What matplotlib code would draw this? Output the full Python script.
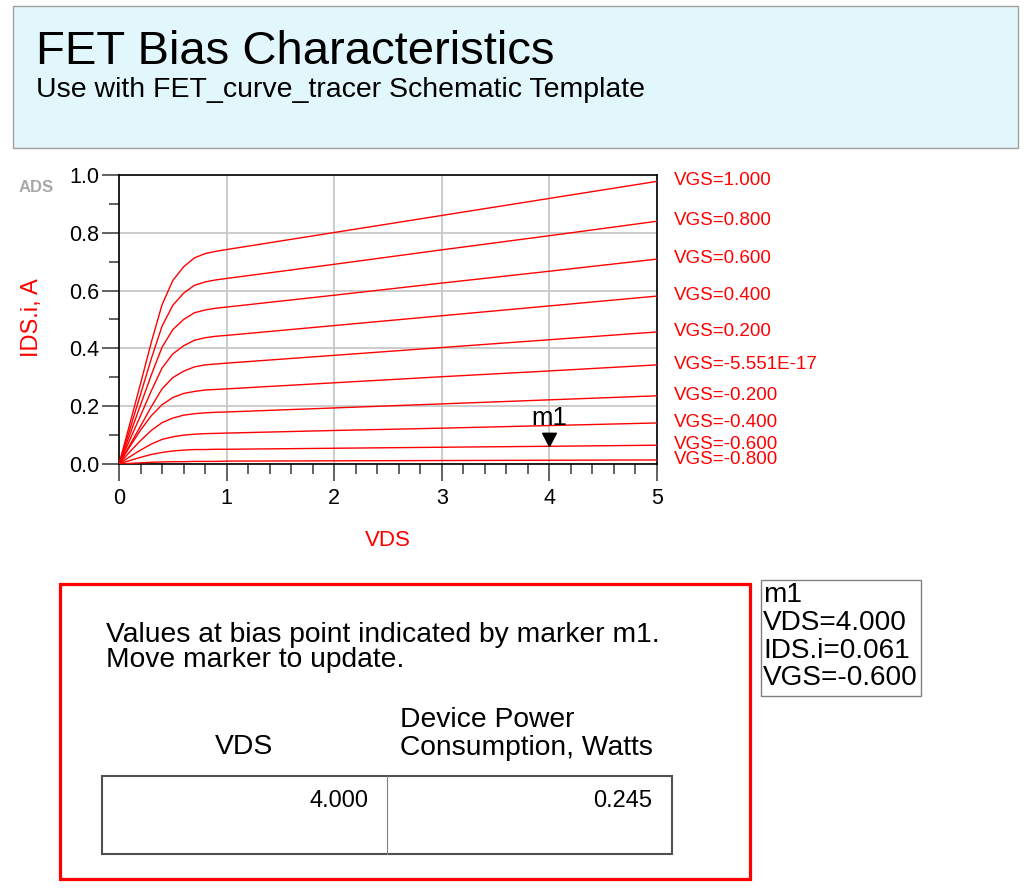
import matplotlib
matplotlib.use("Agg")
import matplotlib.pyplot as plt
from matplotlib.patches import Rectangle
from matplotlib.path import Path

plt.rcParams['font.family'] = ['Liberation Sans', 'DejaVu Sans']

# ---------------- data ----------------
vds = [0, 0.1, 0.2, 0.3, 0.4, 0.5, 0.6, 0.7, 0.8, 0.9, 1.0, 2.0, 3.0, 4.0, 5.0]

ids_vgs_p1_0 = [0, 0.138, 0.278, 0.421, 0.551, 0.635, 0.682, 0.713, 0.728, 0.736, 0.742, 0.801, 0.860, 0.919, 0.978]
ids_vgs_p0_8 = [0, 0.119, 0.241, 0.364, 0.477, 0.549, 0.591, 0.618, 0.630, 0.637, 0.642, 0.691, 0.741, 0.790, 0.840]
ids_vgs_p0_6 = [0, 0.101, 0.204, 0.308, 0.404, 0.465, 0.500, 0.523, 0.533, 0.539, 0.543, 0.584, 0.626, 0.667, 0.709]
ids_vgs_p0_4 = [0, 0.083, 0.167, 0.253, 0.332, 0.381, 0.409, 0.428, 0.437, 0.442, 0.445, 0.479, 0.513, 0.547, 0.581]
ids_vgs_p0_2 = [0, 0.065, 0.131, 0.198, 0.260, 0.299, 0.321, 0.336, 0.343, 0.346, 0.349, 0.376, 0.403, 0.430, 0.457]
ids_vgs_0    = [0, 0.060, 0.117, 0.167, 0.205, 0.230, 0.244, 0.251, 0.256, 0.258, 0.260, 0.281, 0.302, 0.322, 0.343]
ids_vgs_m0_2 = [0, 0.042, 0.081, 0.116, 0.143, 0.159, 0.169, 0.174, 0.177, 0.179, 0.180, 0.194, 0.208, 0.222, 0.236]
ids_vgs_m0_4 = [0, 0.025, 0.048, 0.069, 0.085, 0.094, 0.100, 0.103, 0.105, 0.106, 0.107, 0.116, 0.124, 0.133, 0.142]
ids_vgs_m0_6 = [0, 0.012, 0.023, 0.033, 0.040, 0.045, 0.048, 0.050, 0.050, 0.051, 0.051, 0.0545, 0.058, 0.0613, 0.065]
ids_vgs_m0_8 = [0, 0.002, 0.004, 0.006, 0.007, 0.008, 0.008, 0.009, 0.009, 0.009, 0.010, 0.011, 0.012, 0.013, 0.014]

curves = [ids_vgs_p1_0, ids_vgs_p0_8, ids_vgs_p0_6, ids_vgs_p0_4, ids_vgs_p0_2,
          ids_vgs_0, ids_vgs_m0_2, ids_vgs_m0_4, ids_vgs_m0_6, ids_vgs_m0_8]
vgs_labels = ["VGS=1.000", "VGS=0.800", "VGS=0.600", "VGS=0.400", "VGS=0.200",
              "VGS=-5.551E-17", "VGS=-0.200", "VGS=-0.400", "VGS=-0.600", "VGS=-0.800"]
vgs_values = [1.0, 0.8, 0.6, 0.4, 0.2, -5.551e-17, -0.2, -0.4, -0.6, -0.8]

x_ticks = [0, 1, 2, 3, 4, 5]
y_ticks = [0.0, 0.2, 0.4, 0.6, 0.8, 1.0]

m1_vds = 4.0
m1_curve = 8  # VGS = -0.6

title = "FET Bias Characteristics"
subtitle = "Use with FET_curve_tracer Schematic Template"
info_lines = ["Values at bias point indicated by marker m1.", "Move marker to update."]

# ---------------- figure ----------------
W, H = 1027, 890
fig = plt.figure(figsize=(W / 100, H / 100), dpi=100)
fig.patch.set_facecolor('white')

# overlay in pixel coordinates for the surrounding boxes/text
ov = fig.add_axes([0, 0, 1, 1])
ov.set_xlim(0, W)
ov.set_ylim(H, 0)
ov.axis('off')

# header
ov.add_patch(Rectangle((13, 6), 1005, 142, facecolor='#e2f7fc', edgecolor='#a0a0a0', lw=1.0))
ov.text(36, 64, title, fontsize=34, va='baseline', ha='left', color='black')
ov.text(36, 97, subtitle, fontsize=20.5, va='baseline', ha='left', color='black')

# main plot
ax = fig.add_axes([119 / W, 1 - 464 / H, 538 / W, 289 / H])
for ids in curves:
    ax.plot(vds, ids, color='#ff0000', lw=1.0, zorder=3)

ax.set_xlim(0, 5)
ax.set_ylim(0, 1.0)
ax.set_xticks(x_ticks)
ax.set_xticklabels([str(t) for t in x_ticks])
ax.set_yticks(y_ticks)
ax.set_yticklabels([f"{t:.1f}" for t in y_ticks])
ax.set_xticks([i * 0.2 for i in range(26)], minor=True)
ax.set_yticks([i * 0.1 for i in range(11)], minor=True)
ax.tick_params(which='major', length=12.5, width=1.3, color='#555555', direction='out', labelsize=15.5)
ax.tick_params(which='minor', length=7, width=1.3, color='#555555', direction='out')
ax.tick_params(axis='x', which='major', pad=5)
ax.tick_params(axis='y', which='major', pad=1.5)
ax.grid(True, which='major', color='#c8c8c8', lw=1.3, zorder=0)
ax.set_axisbelow(True)
for s in ax.spines.values():
    s.set_color('black')
    s.set_linewidth(1.2)

# curve labels on the right
for ids, lab in zip(curves, vgs_labels):
    ax.annotate(lab, xy=(vds[-1], ids[-1]), xytext=(12, 0.3), textcoords='offset points',
                color='#ff0000', fontsize=13.5, va='center', ha='left', annotation_clip=False)

# marker m1
i4 = vds.index(m1_vds)
m1_ids = curves[m1_curve][i4]
tri = Path([(0, 0), (-0.52, 1.0), (0.52, 1.0), (0, 0)])
ax.plot([m1_vds], [m1_ids], marker=tri, ms=19, color='black', zorder=5, clip_on=False)
ax.annotate("m1", xy=(m1_vds, m1_ids), xytext=(0, 20.5), textcoords='offset points',
            ha='center', va='center', fontsize=18.5, color='black')

# axis labels
fig.text(32 / W, 1 - 318 / H, "IDS.i, A", rotation=90, color='#ff0000', fontsize=17,
         ha='center', va='center')
fig.text(388 / W, 1 - 541 / H, "VDS", color='#ff0000', fontsize=16, ha='center', va='center')

# ADS watermark
fig.text(36 / W, 1 - 188 / H, "ADS", color='#a8a8a8', fontsize=12, fontweight='bold',
         ha='center', va='center')

# red info box
ov.add_patch(Rectangle((60, 584), 690, 295, facecolor='none', edgecolor='#ff0000', lw=2.3))
ov.text(106, 642, info_lines[0], fontsize=20.3, ha='left', va='baseline', color='black')
ov.text(106, 667, info_lines[1], fontsize=20.3, ha='left', va='baseline', color='black')
ov.text(244, 747, "VDS", fontsize=20.3, ha='center', va='center', color='black')
ov.text(400, 720, "Device Power", fontsize=20.3, ha='left', va='center', color='black')
ov.text(400, 748, "Consumption, Watts", fontsize=20.3, ha='left', va='center', color='black')
ov.add_patch(Rectangle((102, 776), 570, 78, facecolor='none', edgecolor='#505050', lw=1.5))
ov.plot([387, 387], [776, 854], color='#808080', lw=0.8)
power = m1_vds * m1_ids
ov.text(368, 801, f"{m1_vds:.3f}", fontsize=17, ha='right', va='center', color='black')
ov.text(652, 801, f"{power:.3f}", fontsize=17, ha='right', va='center', color='black')

# marker readout box
ov.add_patch(Rectangle((761, 580), 160, 116, facecolor='white', edgecolor='#808080', lw=1.0))
readout = ["m1", f"VDS={m1_vds:.3f}", f"IDS.i={m1_ids:.3f}", f"VGS={vgs_values[m1_curve]:.3f}"]
for k, line in enumerate(readout):
    ov.text(763, 595 + k * 27.8, line, fontsize=20.2, ha='left', va='center', color='black')

fig.savefig("out.png", dpi=100)
